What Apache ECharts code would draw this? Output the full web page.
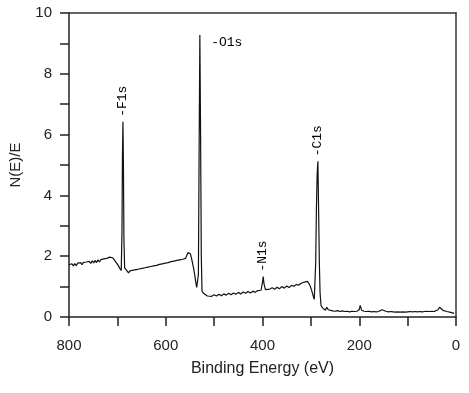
<!DOCTYPE html>
<html>
<head>
<meta charset="utf-8">
<script src="https://cdn.jsdelivr.net/npm/echarts@6/dist/echarts.min.js"></script>
<style>
html, body { margin: 0; padding: 0; background: #fff; }
#main { width: 469px; height: 393px; }
</style>
</head>
<body>
<div id="main"></div>
<script>
// binding energy (eV)
var energy = [
    800, 797, 794, 791, 788, 785, 782, 779, 776, 773, 770, 767, 764, 761, 758, 755, 752, 749, 746, 743,
    740, 737, 734, 731, 728, 725, 722, 719, 716, 713, 710,
    706, 702, 698, 695, 692, 690.5, 689.5, 688.5, 687.5, 686.5, 685, 683, 680, 677, 674, 670, 667, 664, 661, 658, 655,
    652, 649, 646, 643, 640, 637, 634, 631, 628, 625, 622, 619, 616, 613, 610, 607, 604, 601, 598, 595,
    592, 589, 586, 583, 580, 577, 574, 571, 568, 565, 562, 559, 556, 554, 552, 549, 546, 543, 540, 538,
    536, 534, 532.5, 531, 529.5, 528, 526.5, 525,
    522, 518, 514, 510, 505, 500, 495, 490, 485, 480, 475, 470, 465, 460, 455, 450, 445, 440, 435, 430,
    425, 420, 415, 410, 406, 403, 401.5, 400, 398.5, 397, 394, 390, 385, 380, 375, 370, 365, 360, 355, 350,
    345, 340, 335, 330, 325, 320, 316, 313, 310, 307, 304, 301, 298, 295, 293, 291.5, 290, 288.5, 287, 285.5,
    284, 282.5, 281, 279, 276, 273, 270, 267, 264, 260, 255, 250, 245, 240, 235, 230, 225, 220, 215, 210,
    205, 202, 200, 198, 195, 190, 185, 180, 175, 170, 165, 160, 156, 153, 150, 145, 140, 135, 130, 125,
    120, 115, 110, 105, 100, 95, 90, 85, 80, 75, 70, 65, 60, 55, 50, 45, 41, 37, 34, 31,
    27, 23, 19, 15, 11, 7, 4
];
// N(E)/E
var intensity = [
    1.72, 1.66, 1.75, 1.68, 1.76, 1.69, 1.77, 1.71, 1.79, 1.72, 1.80, 1.74, 1.81, 1.75, 1.83, 1.76, 1.85, 1.78, 1.86, 1.79,
    1.88, 1.81, 1.89, 1.83, 1.91, 1.85, 1.93, 1.88, 1.97, 2.00, 1.95,
    1.87, 1.78, 1.69, 1.60, 1.53, 2.8, 5.3, 6.42, 5.0, 2.6, 1.62, 1.57, 1.52, 1.45, 1.52, 1.46, 1.54, 1.48, 1.56, 1.50, 1.58,
    1.52, 1.60, 1.54, 1.62, 1.56, 1.64, 1.58, 1.66, 1.60, 1.68, 1.62, 1.70, 1.65, 1.73, 1.67, 1.75, 1.69, 1.77, 1.71, 1.79,
    1.74, 1.82, 1.76, 1.84, 1.78, 1.86, 1.80, 1.88, 1.82, 1.90, 1.84, 1.93, 1.96, 2.12, 2.18, 2.08, 1.88, 1.65, 1.38, 1.15, 0.97,
    0.93, 1.4, 5.5, 9.28, 6.0, 2.0, 0.85, 0.78,
    0.72, 0.69, 0.74, 0.68, 0.73, 0.69, 0.75, 0.70, 0.76, 0.72, 0.78, 0.73, 0.79, 0.75, 0.81, 0.76, 0.82, 0.78, 0.84, 0.79,
    0.85, 0.81, 0.87, 0.83, 0.88, 0.90, 1.15, 1.33, 1.10, 0.90, 0.91, 0.92, 0.96, 0.91, 0.98, 0.93, 1.00, 0.95, 1.02, 0.97,
    1.04, 1.01, 1.07, 1.05, 1.11, 1.12, 1.15, 1.18, 1.17, 1.10, 1.00, 0.85, 0.68, 0.58, 0.56, 1.8, 3.6, 4.7, 5.12, 3.5,
    1.8, 0.8, 0.38, 0.30, 0.24, 0.22, 0.32, 0.24, 0.21, 0.20, 0.19, 0.21, 0.18, 0.20, 0.18, 0.19, 0.17, 0.19, 0.18, 0.19,
    0.20, 0.24, 0.38, 0.22, 0.19, 0.18, 0.19, 0.17, 0.18, 0.17, 0.18, 0.19, 0.24, 0.27, 0.19, 0.17, 0.18, 0.17, 0.16, 0.17,
    0.16, 0.17, 0.16, 0.17, 0.18, 0.17, 0.18, 0.17, 0.18, 0.17, 0.18, 0.19, 0.18, 0.19, 0.18, 0.21, 0.24, 0.32, 0.30, 0.22,
    0.20, 0.18, 0.17, 0.15, 0.13, 0.12, 0.11
];

// peak labels
var peakNames = ['-F1s', '-O1s', '-N1s', '-C1s'];
var peakEnergy = [688.5, 531, 400, 287];
var peakTop = [6.42, 9.04, 1.33, 5.12];

var myChart = echarts.init(document.getElementById('main'));

var axisFont = {
    fontFamily: 'Liberation Sans, Arial, sans-serif',
    fontSize: 15,
    color: '#222'
};
var frameLine = { show: true, onZero: false, lineStyle: { color: '#333', width: 1.5 } };
var mainLine = { show: true, onZero: false, lineStyle: { color: '#222', width: 1.5 } };
var mainTick = { show: true, inside: false, length: 9, lineStyle: { color: '#222', width: 1.5 } };

var marks = peakNames.map(function (name, i) {
    var horizontal = name === '-O1s';
    return {
        coord: [peakEnergy[i], peakTop[i]],
        label: horizontal ? {
            position: 'right',
            distance: 12,
            align: 'left',
            verticalAlign: 'middle'
        } : {
            position: 'top',
            distance: 4,
            rotate: 90,
            align: 'left',
            verticalAlign: 'middle',
            offset: [1, 0]
        },
        value: name
    };
});

var option = {
    animation: false,
    backgroundColor: '#fff',
    grid: {
        left: 67,
        right: 13,
        top: 13,
        bottom: 76
    },
    xAxis: [{
        type: 'value',
        position: 'bottom',
        inverse: true,
        min: 0,
        max: 800,
        interval: 100,
        name: 'Binding Energy (eV)',
        nameLocation: 'middle',
        nameGap: 44,
        nameTextStyle: {
            fontFamily: 'Liberation Sans, Arial, sans-serif',
            fontSize: 16,
            color: '#222'
        },
        axisLine: mainLine,
        axisTick: mainTick,
        axisLabel: Object.assign({
            margin: 21,
            formatter: function (v) { return v % 200 === 0 ? v : ''; }
        }, axisFont),
        splitLine: { show: false }
    }, {
        type: 'value',
        position: 'top',
        inverse: true,
        min: 0,
        max: 800,
        axisLine: frameLine,
        axisTick: { show: false },
        axisLabel: { show: false },
        splitLine: { show: false }
    }],
    yAxis: [{
        type: 'value',
        position: 'left',
        min: 0,
        max: 10,
        interval: 1,
        name: 'N(E)/E',
        nameLocation: 'middle',
        nameGap: 46,
        nameTextStyle: {
            fontFamily: 'Liberation Sans, Arial, sans-serif',
            fontSize: 15,
            color: '#222'
        },
        axisLine: mainLine,
        axisTick: mainTick,
        axisLabel: Object.assign({
            margin: 17,
            formatter: function (v) { return v % 2 === 0 ? v : ''; }
        }, axisFont),
        splitLine: { show: false }
    }, {
        type: 'value',
        position: 'right',
        min: 0,
        max: 10,
        axisLine: frameLine,
        axisTick: { show: false },
        axisLabel: { show: false },
        splitLine: { show: false }
    }],
    series: [{
        type: 'line',
        showSymbol: false,
        silent: true,
        lineStyle: { color: '#111', width: 1.2 },
        data: energy.map(function (e, i) {
            return [e, intensity[i]];
        }),
        markPoint: {
            silent: true,
            symbol: 'circle',
            symbolSize: 0,
            itemStyle: { color: 'transparent' },
            label: {
                show: true,
                formatter: '{c}',
                fontFamily: 'Liberation Mono, Courier New, monospace',
                fontSize: 13,
                color: '#000'
            },
            data: marks
        }
    }]
};

myChart.setOption(option);
</script>
</body>
</html>
